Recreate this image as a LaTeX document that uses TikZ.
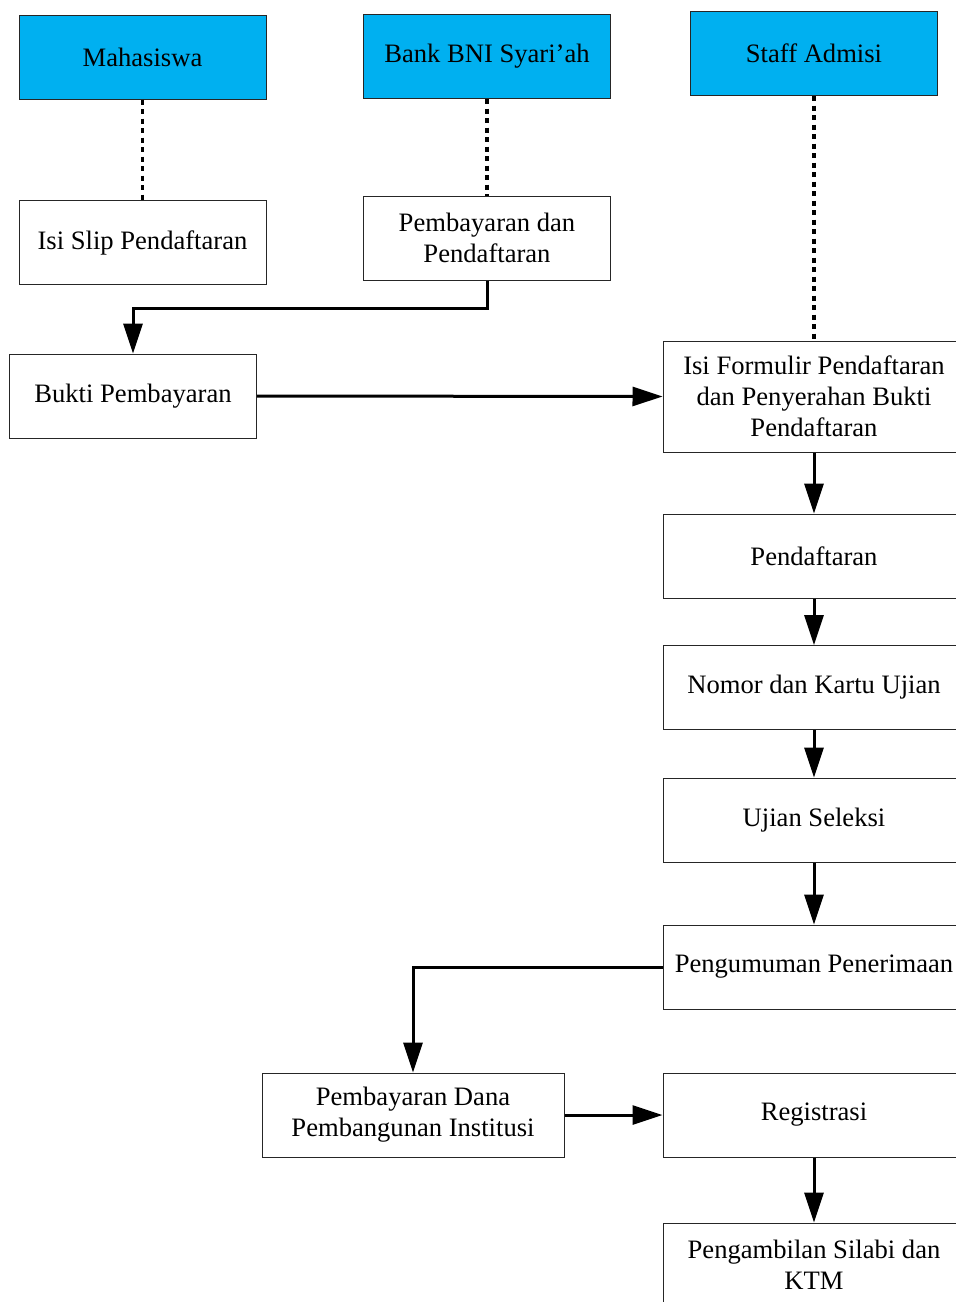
\documentclass[tikz,border=0pt]{standalone}
\usepackage{fontspec}
\setmainfont{Liberation Serif}
\usetikzlibrary{arrows.meta}
\definecolor{birulangit}{HTML}{00B0F0}
\tikzset{
  kotak/.style={draw=black!85, line width=1pt, minimum width=247pt, minimum height=84pt,
    inner sep=0pt, align=center, font=\fontsize{26.6}{31}\selectfont},
  kotaklebar/.style={kotak, minimum width=302pt},
  pelaku/.style={kotak, fill=birulangit},
  panah/.style={line width=3pt, -{Triangle[length=30pt,width=19pt]}},
  titik/.style={line width=3.5pt, dash pattern=on 5pt off 4.5pt},
}
\begin{document}
\begin{tikzpicture}[x=1pt,y=-1pt]
  \useasboundingbox (0,0) rectangle (956,1302);
  \clip (0,0) rectangle (956,1302);
  % Pelaku
  \node[pelaku] (mhs) at (142.5,57) {Mahasiswa};
  \node[pelaku] (bank) at (487,56.5) {Bank BNI Syari’ah};
  \node[pelaku] (staf) at (814,53.5) {Staff Admisi};
  % Kegiatan awal
  \node[kotak] (slip) at (142.5,242.5) {Isi Slip Pendaftaran};
  \node[kotak] (bayar) at (487,238) {Pembayaran dan\\Pendaftaran};
  \node[kotak] (bukti) at (133,396) {Bukti Pembayaran};
  % Kolom kanan
  \node[kotaklebar, minimum height=111pt] (formulir) at (814,396.5) {Isi Formulir Pendaftaran\\dan Penyerahan Bukti\\Pendaftaran};
  \node[kotaklebar] (daftar) at (814,556) {Pendaftaran};
  \node[kotaklebar] (nomor) at (814,687.5) {Nomor dan Kartu Ujian};
  \node[kotaklebar] (ujian) at (814,820) {Ujian Seleksi};
  \node[kotaklebar] (umum) at (814,967) {Pengumuman Penerimaan};
  \node[kotaklebar] (dana) at (413,1115) {Pembayaran Dana\\Pembangunan Institusi};
  \node[kotaklebar] (regis) at (814,1115) {Registrasi};
  \node[kotaklebar] (ktm) at (814,1265) {Pengambilan Silabi dan\\KTM};
  % Garis titik-titik
  \draw[titik] (mhs.south) -- (slip.north);
  \draw[titik] (bank.south) -- (bayar.north);
  \draw[titik] (staf.south) -- (formulir.north);
  % Alur
  \draw[panah] (bayar.south) -- ++(0,28) -| (bukti.north);
  \draw[panah] (bukti.east) -- (formulir.west);
  \draw[panah] (formulir.south) -- (daftar.north);
  \draw[panah] (daftar.south) -- (nomor.north);
  \draw[panah] (nomor.south) -- (ujian.north);
  \draw[panah] (ujian.south) -- (umum.north);
  \draw[panah] (umum.west) -| (dana.north);
  \draw[panah] (dana.east) -- (regis.west);
  \draw[panah] (regis.south) -- (ktm.north);
\end{tikzpicture}
\end{document}
